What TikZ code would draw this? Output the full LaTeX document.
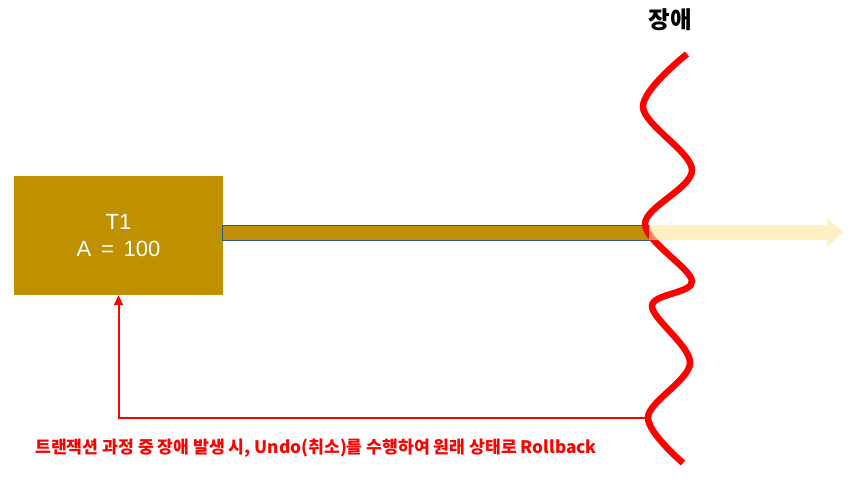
\documentclass[tikz,border=0pt]{standalone}
\usepackage{fontspec}
\setmainfont{Liberation Sans}
\newfontfamily\krfont{Noto Sans CJK KR}
\usetikzlibrary{arrows.meta}
\definecolor{gold}{HTML}{BF9000}
\definecolor{barline}{HTML}{2F5597}
\definecolor{lightarrow}{RGB}{255,230,153}
\definecolor{fault}{RGB}{255,0,0}
\tikzset{
  txbox/.style={draw=none, fill=gold, text=white, minimum width=209pt, minimum height=119pt,
    inner sep=0pt, align=center, font=\fontsize{22}{27}\selectfont},
  progbar/.style={draw=barline, line width=0.8pt, fill=gold},
  wave/.style={draw=fault, line width=6.5pt},
  undo/.style={draw=fault, line width=2pt, -{Triangle[length=10pt,width=9pt]}},
  contarrow/.style={fill=lightarrow, opacity=0.6, draw=none},
  label/.style={inner sep=0pt}
}
\begin{document}
\begin{tikzpicture}[x=1pt,y=-1pt]
\useasboundingbox (0,0) rectangle (850,492);
% transaction box
\node[txbox] (t1) at (118.5,235.5) {T1\\A \,=\, 100};
% progress bar
\draw[progbar] (222.5,225) rectangle (649,240);
% feedback (undo) line
\coordinate (w) at (646,418);
\draw[undo] (w) -| (t1.south);
% fault wave
\draw[wave, line cap=butt] plot[smooth, tension=0.55] coordinates {
  (687,54) (643,107) (692,170) (645,224) (692,281) (652,306) (690,363) (648,417) (683,463)};
% continuation arrow (semi-transparent)
\fill[contarrow] (649,225) -- (827,225) -- (827,218) -- (843,232.5) -- (827,247) -- (827,240) -- (649,240) -- cycle;
% labels
\node[label, font=\krfont\bfseries\fontsize{23.5}{26}\selectfont] (fail) at (670,20) {장애};
\node[label, text=fault, font=\krfont\bfseries\fontsize{17.2}{20}\selectfont, anchor=west] (msg) at (35,448)
  {트랜잭션 과정 중 장애 발생 시, Undo(취소)를 수행하여 원래 상태로 Rollback};
\end{tikzpicture}
\end{document}
